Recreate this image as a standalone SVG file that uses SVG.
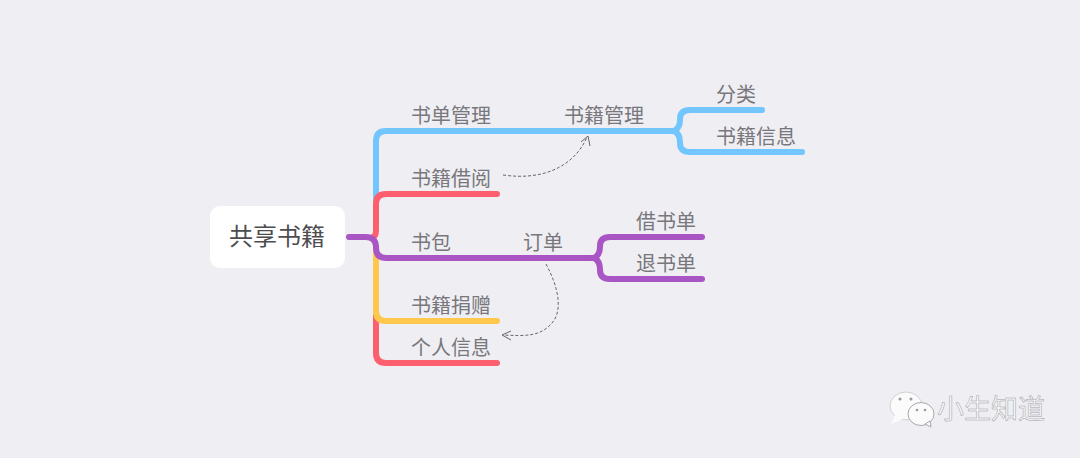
<svg xmlns="http://www.w3.org/2000/svg" width="1080" height="458" viewBox="0 0 1080 458">
<style>
text{font-family:"Noto Sans CJK SC","Noto Sans",sans-serif;font-size:20px;fill:#77777c}
.l{fill:none;stroke-width:6;stroke-linecap:round;stroke-linejoin:round}
.b{stroke:#73c5fd}.r{stroke:#fe5f6e}.p{stroke:#a955c4}.y{stroke:#fdc84b}
.d{fill:none;stroke:#66666a;stroke-width:1;stroke-dasharray:3 2}
.a{fill:none;stroke:#66666a;stroke-width:1}
</style>
<rect width="1080" height="458" fill="#efeef3"/>
<g id="connectors">
<path class="l b" d="M376 200V141Q376 131 386 131H672"/>
<path class="l r" d="M376 316V353Q376 363 386 363H497"/>
<path class="l y" d="M376 250V311Q376 321 386 321H497"/>
<path class="l r" d="M373 237Q376 236 376 230V204Q376 194 386 194H497"/>
<path class="l p" d="M349 237H366Q375 237 376 246V248Q376 258 386 258H592"/>
<path class="l b" d="M672 131H674Q680 128 680 120V119Q680 110 690 110H762"/>
<path class="l b" d="M672 131H674Q680 134 680 142V143Q680 152 690 152H802"/>
<path class="l p" d="M592 258H594Q600 255 600 247V246Q600 237 610 237H702"/>
<path class="l p" d="M592 258H594Q600 261 600 269V270Q600 279 610 279H702"/>
<path class="d" d="M503 175C545 181 575 165 587 137"/>
<path class="a" d="M581 142L588 136L590 146"/>
<path class="d" d="M546 264C560 290 562 312 552 323C540 337 525 336 503 335"/>
<path class="a" d="M511 331L502 335L511 340"/>
</g>
<g id="root"><rect x="210" y="206" width="135" height="62" rx="10" fill="#fff"/><text x="277" y="245" text-anchor="middle" style="font-size:24px;fill:#4d4d50">共享书籍</text></g>
<g id="n1"><text x="411" y="123">书单管理</text></g>
<g id="n2"><text x="564" y="123">书籍管理</text></g>
<g id="n3"><text x="716" y="102">分类</text></g>
<g id="n4"><text x="716" y="144">书籍信息</text></g>
<g id="n5"><text x="411" y="186">书籍借阅</text></g>
<g id="n6"><text x="411" y="250">书包</text></g>
<g id="n7"><text x="523" y="250">订单</text></g>
<g id="n8"><text x="636" y="229">借书单</text></g>
<g id="n9"><text x="636" y="271">退书单</text></g>
<g id="n10"><text x="411" y="313">书籍捐赠</text></g>
<g id="n11"><text x="411" y="355">个人信息</text></g>
<g id="watermark">
<ellipse cx="906" cy="406" rx="16" ry="14" fill="#fbfbfc" stroke="#d0d0d5"/>
<path d="M895 415L891 424L903 419Z" fill="#fbfbfc"/>
<ellipse cx="921" cy="414" rx="13" ry="11.500" fill="#fbfbfc" stroke="#a8a8ae"/>
<path d="M925 424L931 427L930 421Z" fill="#fbfbfc" stroke="#a8a8ae"/>
<circle cx="900" cy="399" r="1.500" fill="#999"/><circle cx="911" cy="399" r="1.500" fill="#999"/>
<circle cx="917" cy="410" r="1.300" fill="#999"/><circle cx="925" cy="410" r="1.300" fill="#999"/>
<text x="937" y="419" style="font-size:27px;fill:#f8f8fa;stroke:#9d9da3;stroke-width:.5">小生知道</text>
</g>
</svg>
